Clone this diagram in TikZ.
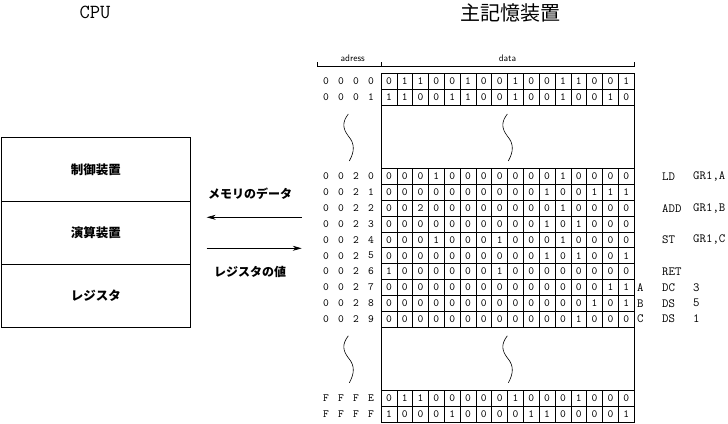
\documentclass[tikz,border=0pt]{standalone}
\usepackage{fontspec}
\setmainfont{Liberation Sans}
\setmonofont{Latin Modern Mono}
\newfontfamily\jpfont{Noto Sans CJK JP}
\usetikzlibrary{arrows.meta}

\def\cw{15.82}
\def\rh{15.84}
\tikzset{
  cell/.style={line width=0.6pt},
  bit/.style={font=\ttfamily\fontsize{11}{11}\selectfont, inner sep=0pt},
  adr/.style={font=\ttfamily\fontsize{11}{11}\selectfont, inner sep=0pt},
  hdr/.style={font=\sffamily\fontsize{9.5}{9.5}\selectfont, inner sep=0pt},
  asm/.style={font=\ttfamily\fontsize{12.5}{12.5}\selectfont, inner sep=0pt, anchor=west},
  cpubox/.style={draw, line width=0.6pt, outer sep=0pt, minimum width=189.7pt, minimum height=63.3pt,
    font=\jpfont\bfseries\fontsize{12.5}{12.5}\selectfont},
  jplabel/.style={font=\jpfont\bfseries\fontsize{12}{12}\selectfont, inner sep=0pt},
  flow/.style={line width=0.6pt, -{Stealth[length=9pt,width=5pt]}}
}
% one memory word: row index, address digits, bits
\newcommand{\memrow}[3]{%
  \foreach \d [count=\k] in {#2}
    \node[adr] (a#1-\k) at ({311+15*\k}, {73.5+(#1+0.5)*\rh}) {\d};
  \foreach \b [count=\k] in {#3} {
    \draw[cell] ({381+(\k-1)*\cw}, {73.5+#1*\rh}) rectangle ++(\cw,\rh);
    \node[bit] (b#1-\k) at ({381+(\k-0.5)*\cw}, {73.5+(#1+0.5)*\rh}) {\b};
  }
}
\newcommand{\squiggle}[2]{\draw[cell, shift={(#1,#2)}] (0,0) .. controls (-6,8) and (-6,14) .. (0,22) .. controls (7,30) and (6,38) .. (1,47);}
\newcommand{\asmline}[4]{%
  \node[asm] (l#1) at (637, {73.5+(#1+0.5)*\rh}) {#2};
  \node[asm] (o#1) at (662, {73.5+(#1+0.5)*\rh}) {#3};
  \node[asm] (p#1) at (693, {73.5+(#1+0.5)*\rh}) {#4};
}

\begin{document}
\begin{tikzpicture}[x=1pt, y=-1pt]
  %%%%% START %%%%%
  \useasboundingbox (0,0) rectangle (728,423);

  \node[font=\ttfamily\fontsize{20}{20}\selectfont, inner sep=0pt] (cpu) at (95,12) {CPU};
  \node[font=\jpfont\fontsize{20}{20}\selectfont, inner sep=0pt] (mem) at (510,13) {主記憶装置};

  % CPU
  \node[cpubox] (ctrl) at (95.85,169.3) {制御装置};
  \node[cpubox] (alu) at (95.85,232.6) {演算装置};
  \node[cpubox] (reg) at (95.85,295.9) {レジスタ};

  \coordinate (inR) at (301.7,217.3);
  \coordinate (inL) at (206.7,217.3);
  \coordinate (outL) at (206.7,248.3);
  \coordinate (outR) at (301.7,248.3);
  \draw[flow] (inR) -- (inL);
  \draw[flow] (outL) -- (outR);
  \node[jplabel] (memdata) at (250,193.3) {メモリのデータ};
  \node[jplabel] (regval) at (250,271.7) {レジスタの値};

  % header
  \draw[cell] (317,62) -- (317,66) -- (634,66) -- (634,62);
  \draw[cell] (381,62) -- (381,66);
  \node[hdr] (adrlbl) at (352.7,58) {adress};
  \node[hdr] (datalbl) at (507.5,58) {data};

  % memory
  \memrow{0}{0,0,0,0}{0,1,1,0,0,1,0,0,1,0,0,1,1,0,0,1}
  \memrow{1}{0,0,0,1}{1,1,0,0,1,1,0,0,1,0,0,1,0,0,1,0}
  \draw[cell] (381,{73.5+2*\rh}) rectangle (634,{73.5+6*\rh});
  \squiggle{348.3}{114}
  \squiggle{507.3}{114}
  \memrow{6}{0,0,2,0}{0,0,0,1,0,0,0,0,0,0,0,1,0,0,0,0}
  \memrow{7}{0,0,2,1}{0,0,0,0,0,0,0,0,0,0,1,0,0,1,1,1}
  \memrow{8}{0,0,2,2}{0,0,2,0,0,0,0,0,0,0,0,1,0,0,0,0}
  \memrow{9}{0,0,2,3}{0,0,0,0,0,0,0,0,0,0,1,0,1,0,0,0}
  \memrow{10}{0,0,2,4}{0,0,0,1,0,0,0,1,0,0,0,1,0,0,0,0}
  \memrow{11}{0,0,2,5}{0,0,0,0,0,0,0,0,0,0,1,0,1,0,0,1}
  \memrow{12}{0,0,2,6}{1,0,0,0,0,0,0,1,0,0,0,0,0,0,0,0}
  \memrow{13}{0,0,2,7}{0,0,0,0,0,0,0,0,0,0,0,0,0,0,1,1}
  \memrow{14}{0,0,2,8}{0,0,0,0,0,0,0,0,0,0,0,0,0,1,0,1}
  \memrow{15}{0,0,2,9}{0,0,0,0,0,0,0,0,0,0,0,0,1,0,0,0}
  \draw[cell] (381,{73.5+16*\rh}) rectangle (634,{73.5+20*\rh});
  \squiggle{348.3}{335.8}
  \squiggle{507.3}{335.8}
  \memrow{20}{F,F,F,E}{0,1,1,0,0,0,0,0,1,0,0,0,1,0,0,0}
  \memrow{21}{F,F,F,F}{1,0,0,0,1,0,0,0,0,1,1,0,0,0,0,1}

  % program
  \asmline{6}{}{LD}{GR1,A}
  \asmline{8}{}{ADD}{GR1,B}
  \asmline{10}{}{ST}{GR1,C}
  \asmline{12}{}{RET}{}
  \asmline{13}{A}{DC}{3}
  \asmline{14}{B}{DS}{5}
  \asmline{15}{C}{DS}{1}
  %%%%% END %%%%%
\end{tikzpicture}
\end{document}
